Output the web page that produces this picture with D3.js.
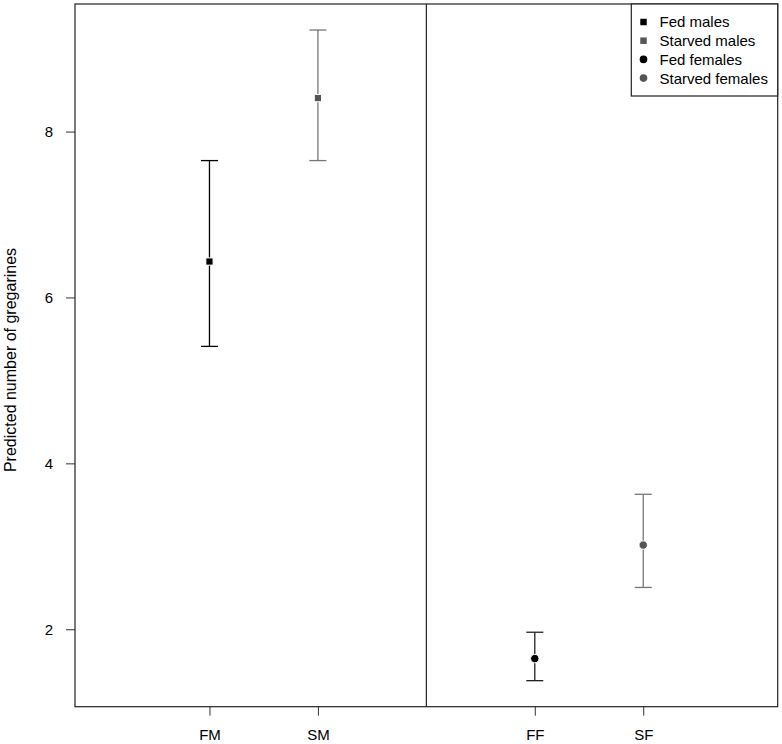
<!doctype html>
<html lang="en">
<head>
    <meta charset="utf-8">
    <title>Predicted number of gregarines</title>
    <script src="https://d3js.org/d3.v7.min.js"></script>
    <style>
        body { margin: 0; background: #fff; }
        svg { display: block; font-family: "Liberation Sans", Arial, sans-serif; }
    </style>
</head>
<body>
<script>
    // groups, positions on the x axis (0..6) and model estimates
    const groups = ["FM", "SM", "FF", "SF"]
    const xPos = [1, 2, 4, 5]
    const estimate = [6.433, 8.403, 1.646, 3.015]
    const lower = [5.410, 7.650, 1.380, 2.504]
    const upper = [7.650, 9.224, 1.964, 3.627]
    const legendLabels = ["Fed males", "Starved males", "Fed females", "Starved females"]
    const shapes = ["square", "square", "circle", "circle"]
    const pointColors = ["#000000", "#555555", "#000000", "#555555"]
    const barColors = ["#000000", "#777777", "#222222", "#777777"]
    const yTicks = [2, 4, 6, 8]

    const width = 782, height = 744
    const margin = { left: 75, right: 4.3, top: 4, bottom: 37.3 }

    const svg = d3.select("body").append("svg")
        .attr("width", width)
        .attr("height", height)

    // R-style axis limits: xlim c(0,6), ylim from the error bars, both padded by 4%
    const yLo = d3.min(lower), yHi = d3.max(upper)
    const yPad = (yHi - yLo) * 0.04
    const x = d3.scaleLinear().domain([-0.24, 6.24]).range([margin.left, width - margin.right])
    const y = d3.scaleLinear().domain([yLo - yPad, yHi + yPad]).range([height - margin.bottom, margin.top])

    // y axis
    const yAxis = svg.append("g")
        .attr("transform", `translate(${margin.left},0)`)
        .call(d3.axisLeft(y).tickValues(yTicks).tickSize(9).tickPadding(13).tickFormat(d3.format("d")))
    yAxis.select(".domain").remove()
    yAxis.selectAll("line").attr("stroke", "#333")
    yAxis.selectAll("text").attr("font-size", 15).attr("fill", "#000")
        .attr("font-family", "Liberation Sans, Arial, sans-serif")

    // x axis
    const xAxis = svg.append("g")
        .attr("transform", `translate(0,${height - margin.bottom})`)
        .call(d3.axisBottom(x).tickValues(xPos).tickSize(9).tickPadding(14).tickFormat((d, i) => groups[i]))
    xAxis.select(".domain").remove()
    xAxis.selectAll("line").attr("stroke", "#333")
    xAxis.selectAll("text").attr("font-size", 15).attr("fill", "#000")
        .attr("font-family", "Liberation Sans, Arial, sans-serif")

    // frame and divider between males and females
    svg.append("rect")
        .attr("x", x.range()[0]).attr("y", y.range()[1])
        .attr("width", x.range()[1] - x.range()[0])
        .attr("height", y.range()[0] - y.range()[1])
        .attr("fill", "none").attr("stroke", "#222").attr("stroke-width", 1.2)
    svg.append("line")
        .attr("x1", x(3)).attr("x2", x(3))
        .attr("y1", y.range()[0]).attr("y2", y.range()[1])
        .attr("stroke", "#222").attr("stroke-width", 1.2)

    // y label
    svg.append("text")
        .attr("transform", `translate(16,360) rotate(-90)`)
        .attr("text-anchor", "middle")
        .attr("font-size", 16)
        .text("Predicted number of gregarines")

    // error bars
    const capW = 8.5
    const bars = svg.append("g").selectAll("g")
        .data(groups)
        .join("g")
        .attr("stroke", (d, i) => barColors[i])
        .attr("stroke-width", 1.3)
    bars.append("line")
        .attr("x1", (d, i) => x(xPos[i])).attr("x2", (d, i) => x(xPos[i]))
        .attr("y1", (d, i) => y(lower[i])).attr("y2", (d, i) => y(upper[i]))
    bars.append("line")
        .attr("x1", (d, i) => x(xPos[i]) - capW).attr("x2", (d, i) => x(xPos[i]) + capW)
        .attr("y1", (d, i) => y(lower[i])).attr("y2", (d, i) => y(lower[i]))
    bars.append("line")
        .attr("x1", (d, i) => x(xPos[i]) - capW).attr("x2", (d, i) => x(xPos[i]) + capW)
        .attr("y1", (d, i) => y(upper[i])).attr("y2", (d, i) => y(upper[i]))

    // points
    const sym = s => d3.symbol().type(s === "square" ? d3.symbolSquare : d3.symbolCircle).size(s === "square" ? 52 : 56)()
    svg.append("g").selectAll("path")
        .data(groups)
        .join("path")
        .attr("transform", (d, i) => `translate(${x(xPos[i])},${y(estimate[i])})`)
        .attr("d", (d, i) => sym(shapes[i]))
        .attr("fill", (d, i) => pointColors[i])
        .attr("stroke", "#fff").attr("stroke-width", 1)

    // legend
    const lg = svg.append("g")
    lg.append("rect")
        .attr("x", 631.3).attr("y", margin.top)
        .attr("width", width - margin.right - 631.3).attr("height", 92)
        .attr("fill", "#fff").attr("stroke", "#222").attr("stroke-width", 1.2)
    const items = lg.selectAll("g.item")
        .data(legendLabels)
        .join("g")
        .attr("class", "item")
        .attr("transform", (d, i) => `translate(643.5,${22 + i * 18.7})`)
    items.append("path")
        .attr("d", (d, i) => d3.symbol().type(shapes[i] === "square" ? d3.symbolSquare : d3.symbolCircle).size(shapes[i] === "square" ? 42 : 46)())
        .attr("fill", (d, i) => pointColors[i])
    items.append("text")
        .attr("x", 16).attr("dy", "0.36em")
        .attr("font-size", 15)
        .text(d => d)
</script>
</body>
</html>
